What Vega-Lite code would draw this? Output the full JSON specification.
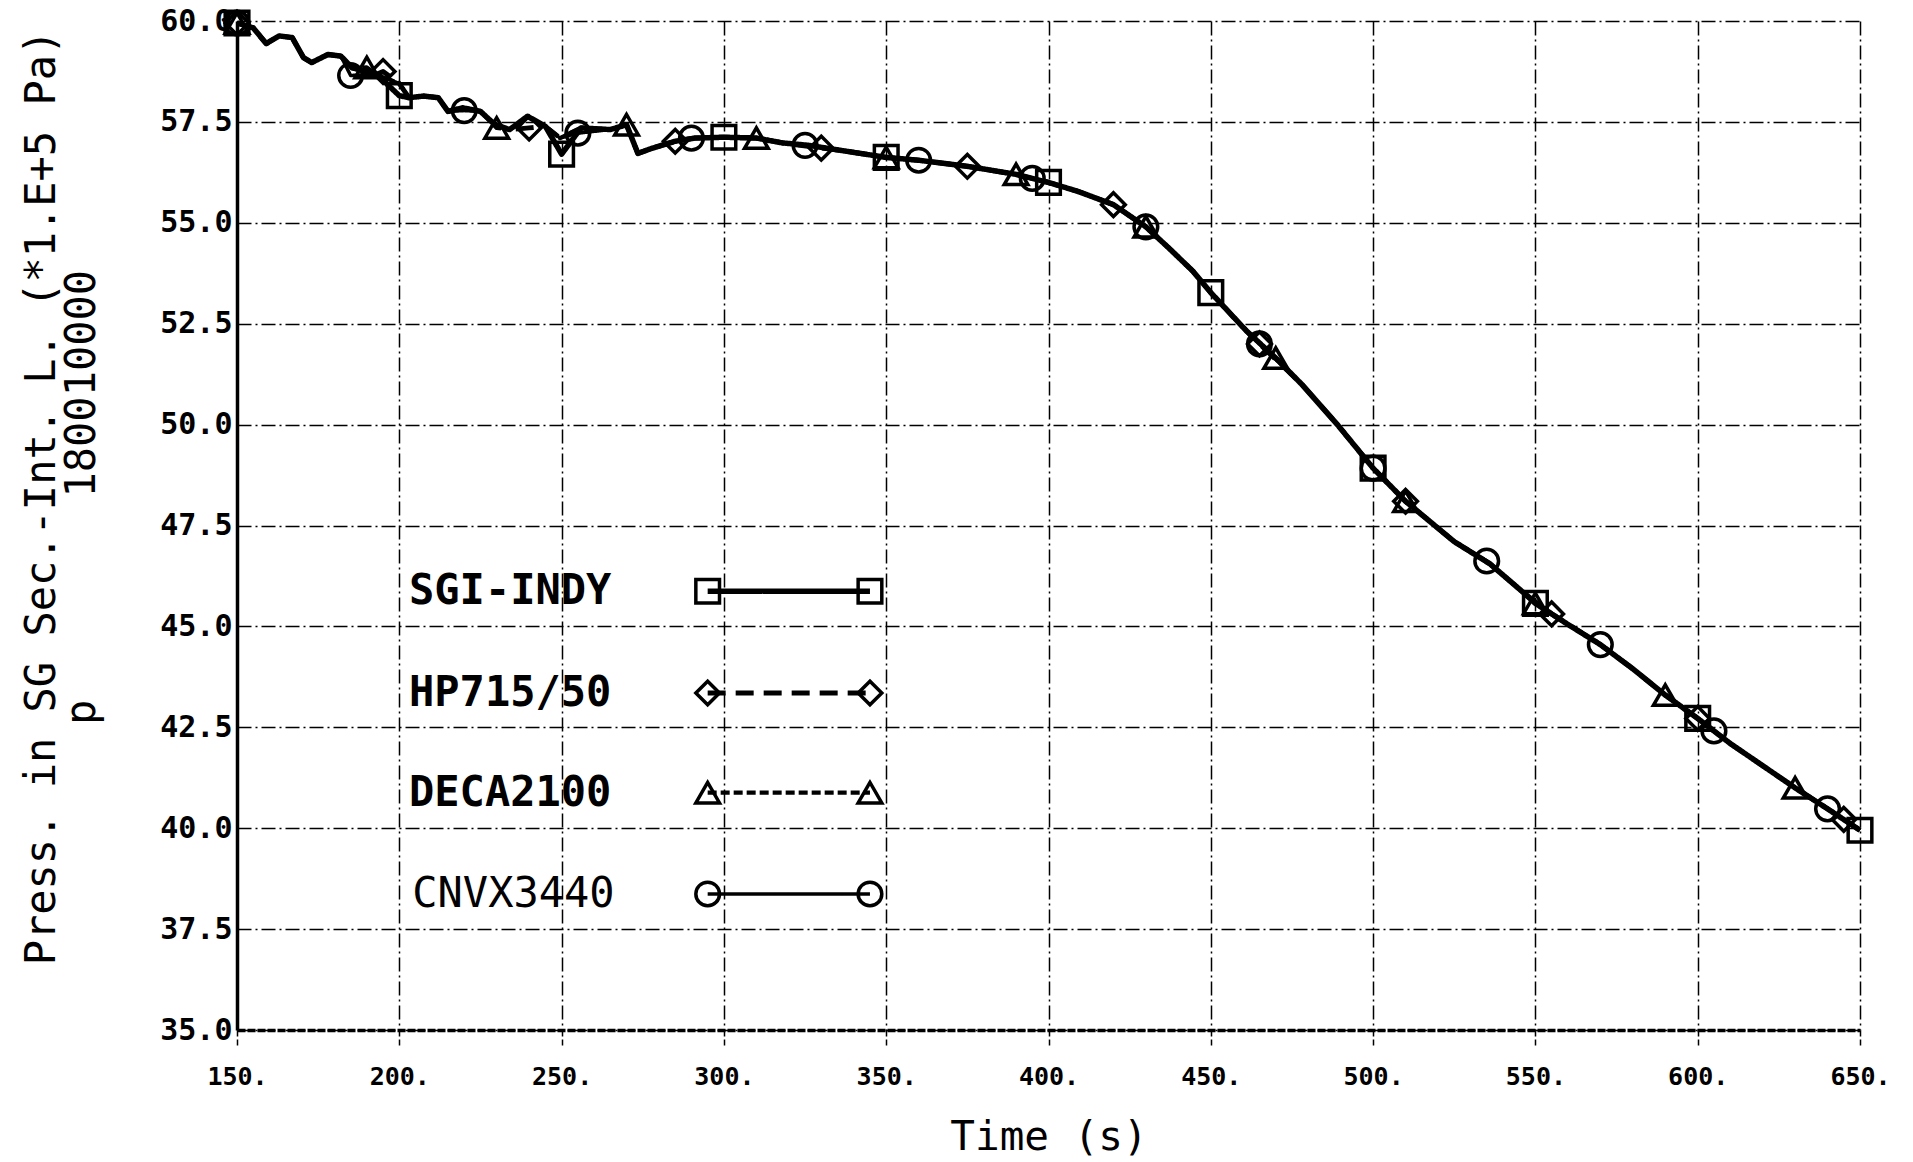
{
"$schema": "https://vega.github.io/schema/vega-lite/v6.json",
"width": 1623, "height": 1009,
"autosize": {"type": "none"},
"padding": {"left": 237, "top": 21, "right": 53, "bottom": 132},
"background": "white",
"config": {"view": {"stroke": null}, "font": "DejaVu Sans Mono"},
"datasets": {
"lines": [
{"series":"SGI-INDY","time":150,"pressure":59.95},{"series":"SGI-INDY","time":155,"pressure":59.83},{"series":"SGI-INDY","time":159,"pressure":59.44},{"series":"SGI-INDY","time":163,"pressure":59.63},{"series":"SGI-INDY","time":167,"pressure":59.59},{"series":"SGI-INDY","time":170.5,"pressure":59.09},{"series":"SGI-INDY","time":173,"pressure":58.97},{"series":"SGI-INDY","time":178,"pressure":59.17},{"series":"SGI-INDY","time":182,"pressure":59.13},{"series":"SGI-INDY","time":185.5,"pressure":58.84},{"series":"SGI-INDY","time":193,"pressure":58.68},{"series":"SGI-INDY","time":200,"pressure":58.15},{"series":"SGI-INDY","time":203,"pressure":58.10},{"series":"SGI-INDY","time":207.5,"pressure":58.14},{"series":"SGI-INDY","time":212,"pressure":58.10},{"series":"SGI-INDY","time":215,"pressure":57.76},{"series":"SGI-INDY","time":219.5,"pressure":57.85},{"series":"SGI-INDY","time":225,"pressure":57.76},{"series":"SGI-INDY","time":229.5,"pressure":57.43},{"series":"SGI-INDY","time":234,"pressure":57.31},{"series":"SGI-INDY","time":239.5,"pressure":57.64},{"series":"SGI-INDY","time":245,"pressure":57.39},{"series":"SGI-INDY","time":250,"pressure":56.70},{"series":"SGI-INDY","time":256,"pressure":57.35},{"series":"SGI-INDY","time":265,"pressure":57.31},{"series":"SGI-INDY","time":270,"pressure":57.43},{"series":"SGI-INDY","time":273.5,"pressure":56.72},{"series":"SGI-INDY","time":278,"pressure":56.85},{"series":"SGI-INDY","time":285,"pressure":57.02},{"series":"SGI-INDY","time":291,"pressure":57.10},{"series":"SGI-INDY","time":300,"pressure":57.12},{"series":"SGI-INDY","time":310,"pressure":57.10},{"series":"SGI-INDY","time":318,"pressure":56.98},{"series":"SGI-INDY","time":326,"pressure":56.92},{"series":"SGI-INDY","time":338,"pressure":56.77},{"series":"SGI-INDY","time":350,"pressure":56.62},{"series":"SGI-INDY","time":360,"pressure":56.55},{"series":"SGI-INDY","time":375,"pressure":56.40},{"series":"SGI-INDY","time":390,"pressure":56.20},{"series":"SGI-INDY","time":400,"pressure":56.00},{"series":"SGI-INDY","time":409,"pressure":55.78},{"series":"SGI-INDY","time":420,"pressure":55.45},{"series":"SGI-INDY","time":430,"pressure":54.90},{"series":"SGI-INDY","time":437,"pressure":54.38},{"series":"SGI-INDY","time":444.5,"pressure":53.80},{"series":"SGI-INDY","time":450,"pressure":53.27},{"series":"SGI-INDY","time":461,"pressure":52.32},{"series":"SGI-INDY","time":470,"pressure":51.65},{"series":"SGI-INDY","time":478,"pressure":51.00},{"series":"SGI-INDY","time":489,"pressure":50.00},{"series":"SGI-INDY","time":500,"pressure":48.92},{"series":"SGI-INDY","time":510,"pressure":48.10},{"series":"SGI-INDY","time":525,"pressure":47.10},{"series":"SGI-INDY","time":536,"pressure":46.55},{"series":"SGI-INDY","time":546,"pressure":45.86},{"series":"SGI-INDY","time":550,"pressure":45.57},{"series":"SGI-INDY","time":560,"pressure":45.05},{"series":"SGI-INDY","time":570,"pressure":44.55},{"series":"SGI-INDY","time":580,"pressure":43.95},{"series":"SGI-INDY","time":590,"pressure":43.30},{"series":"SGI-INDY","time":600,"pressure":42.72},{"series":"SGI-INDY","time":610,"pressure":42.10},{"series":"SGI-INDY","time":620,"pressure":41.55},{"series":"SGI-INDY","time":630,"pressure":41.00},{"series":"SGI-INDY","time":640,"pressure":40.48},{"series":"SGI-INDY","time":650,"pressure":39.95},
{"series":"HP715/50","time":150,"pressure":59.95},{"series":"HP715/50","time":155,"pressure":59.83},{"series":"HP715/50","time":159,"pressure":59.44},{"series":"HP715/50","time":163,"pressure":59.63},{"series":"HP715/50","time":167,"pressure":59.59},{"series":"HP715/50","time":170.5,"pressure":59.09},{"series":"HP715/50","time":173,"pressure":58.97},{"series":"HP715/50","time":178,"pressure":59.17},{"series":"HP715/50","time":182,"pressure":59.13},{"series":"HP715/50","time":185.5,"pressure":58.84},{"series":"HP715/50","time":193,"pressure":58.68},{"series":"HP715/50","time":195,"pressure":58.75},{"series":"HP715/50","time":200,"pressure":58.45},{"series":"HP715/50","time":203,"pressure":58.10},{"series":"HP715/50","time":207.5,"pressure":58.14},{"series":"HP715/50","time":212,"pressure":58.10},{"series":"HP715/50","time":215,"pressure":57.76},{"series":"HP715/50","time":219.5,"pressure":57.85},{"series":"HP715/50","time":225,"pressure":57.76},{"series":"HP715/50","time":229.5,"pressure":57.43},{"series":"HP715/50","time":234,"pressure":57.31},{"series":"HP715/50","time":240,"pressure":57.35},{"series":"HP715/50","time":245,"pressure":57.39},{"series":"HP715/50","time":249.5,"pressure":57.10},{"series":"HP715/50","time":256,"pressure":57.35},{"series":"HP715/50","time":265,"pressure":57.31},{"series":"HP715/50","time":270,"pressure":57.43},{"series":"HP715/50","time":273.5,"pressure":56.72},{"series":"HP715/50","time":278,"pressure":56.85},{"series":"HP715/50","time":285,"pressure":57.02},{"series":"HP715/50","time":291,"pressure":57.10},{"series":"HP715/50","time":300,"pressure":57.12},{"series":"HP715/50","time":310,"pressure":57.10},{"series":"HP715/50","time":318,"pressure":56.98},{"series":"HP715/50","time":330,"pressure":56.85},{"series":"HP715/50","time":338,"pressure":56.77},{"series":"HP715/50","time":350,"pressure":56.62},{"series":"HP715/50","time":360,"pressure":56.55},{"series":"HP715/50","time":375,"pressure":56.40},{"series":"HP715/50","time":390,"pressure":56.20},{"series":"HP715/50","time":400,"pressure":56.00},{"series":"HP715/50","time":409,"pressure":55.78},{"series":"HP715/50","time":420,"pressure":55.45},{"series":"HP715/50","time":430,"pressure":54.90},{"series":"HP715/50","time":437,"pressure":54.38},{"series":"HP715/50","time":444.5,"pressure":53.80},{"series":"HP715/50","time":450,"pressure":53.27},{"series":"HP715/50","time":461,"pressure":52.32},{"series":"HP715/50","time":465,"pressure":52.00},{"series":"HP715/50","time":478,"pressure":51.00},{"series":"HP715/50","time":489,"pressure":50.00},{"series":"HP715/50","time":500,"pressure":48.92},{"series":"HP715/50","time":510,"pressure":48.10},{"series":"HP715/50","time":525,"pressure":47.10},{"series":"HP715/50","time":536,"pressure":46.55},{"series":"HP715/50","time":546,"pressure":45.86},{"series":"HP715/50","time":555,"pressure":45.31},{"series":"HP715/50","time":570,"pressure":44.55},{"series":"HP715/50","time":580,"pressure":43.95},{"series":"HP715/50","time":590,"pressure":43.30},{"series":"HP715/50","time":600,"pressure":42.72},{"series":"HP715/50","time":610,"pressure":42.10},{"series":"HP715/50","time":620,"pressure":41.55},{"series":"HP715/50","time":630,"pressure":41.00},{"series":"HP715/50","time":645,"pressure":40.22},{"series":"HP715/50","time":650,"pressure":39.95},
{"series":"DECA2100","time":150,"pressure":59.95},{"series":"DECA2100","time":155,"pressure":59.83},{"series":"DECA2100","time":159,"pressure":59.44},{"series":"DECA2100","time":163,"pressure":59.63},{"series":"DECA2100","time":167,"pressure":59.59},{"series":"DECA2100","time":170.5,"pressure":59.09},{"series":"DECA2100","time":173,"pressure":58.97},{"series":"DECA2100","time":178,"pressure":59.17},{"series":"DECA2100","time":182,"pressure":59.13},{"series":"DECA2100","time":185.5,"pressure":58.84},{"series":"DECA2100","time":190,"pressure":58.85},{"series":"DECA2100","time":193,"pressure":58.68},{"series":"DECA2100","time":200,"pressure":58.45},{"series":"DECA2100","time":203,"pressure":58.10},{"series":"DECA2100","time":207.5,"pressure":58.14},{"series":"DECA2100","time":212,"pressure":58.10},{"series":"DECA2100","time":215,"pressure":57.76},{"series":"DECA2100","time":219.5,"pressure":57.85},{"series":"DECA2100","time":225,"pressure":57.76},{"series":"DECA2100","time":230,"pressure":57.35},{"series":"DECA2100","time":234,"pressure":57.31},{"series":"DECA2100","time":239.5,"pressure":57.64},{"series":"DECA2100","time":245,"pressure":57.39},{"series":"DECA2100","time":249.5,"pressure":57.10},{"series":"DECA2100","time":256,"pressure":57.35},{"series":"DECA2100","time":265,"pressure":57.31},{"series":"DECA2100","time":270,"pressure":57.43},{"series":"DECA2100","time":273.5,"pressure":56.72},{"series":"DECA2100","time":278,"pressure":56.85},{"series":"DECA2100","time":285,"pressure":57.02},{"series":"DECA2100","time":291,"pressure":57.10},{"series":"DECA2100","time":300,"pressure":57.12},{"series":"DECA2100","time":310,"pressure":57.10},{"series":"DECA2100","time":318,"pressure":56.98},{"series":"DECA2100","time":326,"pressure":56.92},{"series":"DECA2100","time":338,"pressure":56.77},{"series":"DECA2100","time":350,"pressure":56.62},{"series":"DECA2100","time":360,"pressure":56.55},{"series":"DECA2100","time":375,"pressure":56.40},{"series":"DECA2100","time":390,"pressure":56.20},{"series":"DECA2100","time":400,"pressure":56.00},{"series":"DECA2100","time":409,"pressure":55.78},{"series":"DECA2100","time":420,"pressure":55.45},{"series":"DECA2100","time":430,"pressure":54.90},{"series":"DECA2100","time":437,"pressure":54.38},{"series":"DECA2100","time":444.5,"pressure":53.80},{"series":"DECA2100","time":450,"pressure":53.27},{"series":"DECA2100","time":461,"pressure":52.32},{"series":"DECA2100","time":470,"pressure":51.65},{"series":"DECA2100","time":478,"pressure":51.00},{"series":"DECA2100","time":489,"pressure":50.00},{"series":"DECA2100","time":500,"pressure":48.92},{"series":"DECA2100","time":510,"pressure":48.10},{"series":"DECA2100","time":525,"pressure":47.10},{"series":"DECA2100","time":536,"pressure":46.55},{"series":"DECA2100","time":550,"pressure":45.57},{"series":"DECA2100","time":560,"pressure":45.05},{"series":"DECA2100","time":570,"pressure":44.55},{"series":"DECA2100","time":580,"pressure":43.95},{"series":"DECA2100","time":590,"pressure":43.30},{"series":"DECA2100","time":600,"pressure":42.72},{"series":"DECA2100","time":610,"pressure":42.10},{"series":"DECA2100","time":620,"pressure":41.55},{"series":"DECA2100","time":630,"pressure":41.00},{"series":"DECA2100","time":640,"pressure":40.48},{"series":"DECA2100","time":650,"pressure":39.95},
{"series":"CNVX3440","time":150,"pressure":59.95},{"series":"CNVX3440","time":155,"pressure":59.83},{"series":"CNVX3440","time":159,"pressure":59.44},{"series":"CNVX3440","time":163,"pressure":59.63},{"series":"CNVX3440","time":167,"pressure":59.59},{"series":"CNVX3440","time":170.5,"pressure":59.09},{"series":"CNVX3440","time":173,"pressure":58.97},{"series":"CNVX3440","time":178,"pressure":59.17},{"series":"CNVX3440","time":182,"pressure":59.13},{"series":"CNVX3440","time":185,"pressure":58.65},{"series":"CNVX3440","time":193,"pressure":58.68},{"series":"CNVX3440","time":200,"pressure":58.45},{"series":"CNVX3440","time":203,"pressure":58.10},{"series":"CNVX3440","time":207.5,"pressure":58.14},{"series":"CNVX3440","time":212,"pressure":58.10},{"series":"CNVX3440","time":215,"pressure":57.76},{"series":"CNVX3440","time":220,"pressure":57.78},{"series":"CNVX3440","time":225,"pressure":57.76},{"series":"CNVX3440","time":229.5,"pressure":57.43},{"series":"CNVX3440","time":234,"pressure":57.31},{"series":"CNVX3440","time":239.5,"pressure":57.64},{"series":"CNVX3440","time":245,"pressure":57.39},{"series":"CNVX3440","time":249.5,"pressure":57.10},{"series":"CNVX3440","time":255,"pressure":57.22},{"series":"CNVX3440","time":265,"pressure":57.31},{"series":"CNVX3440","time":270,"pressure":57.43},{"series":"CNVX3440","time":273.5,"pressure":56.72},{"series":"CNVX3440","time":278,"pressure":56.85},{"series":"CNVX3440","time":285,"pressure":57.02},{"series":"CNVX3440","time":290,"pressure":57.10},{"series":"CNVX3440","time":300,"pressure":57.12},{"series":"CNVX3440","time":310,"pressure":57.10},{"series":"CNVX3440","time":318,"pressure":56.98},{"series":"CNVX3440","time":325,"pressure":56.92},{"series":"CNVX3440","time":338,"pressure":56.77},{"series":"CNVX3440","time":350,"pressure":56.62},{"series":"CNVX3440","time":360,"pressure":56.55},{"series":"CNVX3440","time":375,"pressure":56.40},{"series":"CNVX3440","time":390,"pressure":56.20},{"series":"CNVX3440","time":395,"pressure":56.10},{"series":"CNVX3440","time":400,"pressure":56.00},{"series":"CNVX3440","time":409,"pressure":55.78},{"series":"CNVX3440","time":420,"pressure":55.45},{"series":"CNVX3440","time":430,"pressure":54.90},{"series":"CNVX3440","time":437,"pressure":54.38},{"series":"CNVX3440","time":444.5,"pressure":53.80},{"series":"CNVX3440","time":450,"pressure":53.27},{"series":"CNVX3440","time":461,"pressure":52.32},{"series":"CNVX3440","time":465,"pressure":52.00},{"series":"CNVX3440","time":478,"pressure":51.00},{"series":"CNVX3440","time":489,"pressure":50.00},{"series":"CNVX3440","time":500,"pressure":48.92},{"series":"CNVX3440","time":510,"pressure":48.10},{"series":"CNVX3440","time":525,"pressure":47.10},{"series":"CNVX3440","time":535,"pressure":46.62},{"series":"CNVX3440","time":546,"pressure":45.86},{"series":"CNVX3440","time":550,"pressure":45.57},{"series":"CNVX3440","time":560,"pressure":45.05},{"series":"CNVX3440","time":570,"pressure":44.55},{"series":"CNVX3440","time":580,"pressure":43.95},{"series":"CNVX3440","time":590,"pressure":43.30},{"series":"CNVX3440","time":605,"pressure":42.41},{"series":"CNVX3440","time":610,"pressure":42.10},{"series":"CNVX3440","time":620,"pressure":41.55},{"series":"CNVX3440","time":630,"pressure":41.00},{"series":"CNVX3440","time":640,"pressure":40.48},{"series":"CNVX3440","time":650,"pressure":39.95}
],
"markers": [
{"series":"SGI-INDY","time":150,"pressure":59.95},{"series":"SGI-INDY","time":200,"pressure":58.15},{"series":"SGI-INDY","time":250,"pressure":56.70},{"series":"SGI-INDY","time":300,"pressure":57.12},{"series":"SGI-INDY","time":350,"pressure":56.62},{"series":"SGI-INDY","time":400,"pressure":56.00},{"series":"SGI-INDY","time":450,"pressure":53.27},{"series":"SGI-INDY","time":500,"pressure":48.92},{"series":"SGI-INDY","time":550,"pressure":45.57},{"series":"SGI-INDY","time":600,"pressure":42.72},{"series":"SGI-INDY","time":650,"pressure":39.95},
{"series":"HP715/50","time":150,"pressure":59.95},{"series":"HP715/50","time":195,"pressure":58.75},{"series":"HP715/50","time":240,"pressure":57.35},{"series":"HP715/50","time":285,"pressure":57.02},{"series":"HP715/50","time":330,"pressure":56.85},{"series":"HP715/50","time":375,"pressure":56.40},{"series":"HP715/50","time":420,"pressure":55.45},{"series":"HP715/50","time":465,"pressure":52.00},{"series":"HP715/50","time":510,"pressure":48.10},{"series":"HP715/50","time":555,"pressure":45.31},{"series":"HP715/50","time":600,"pressure":42.72},{"series":"HP715/50","time":645,"pressure":40.22},
{"series":"DECA2100","time":150,"pressure":59.95},{"series":"DECA2100","time":190,"pressure":58.85},{"series":"DECA2100","time":230,"pressure":57.35},{"series":"DECA2100","time":270,"pressure":57.43},{"series":"DECA2100","time":310,"pressure":57.10},{"series":"DECA2100","time":350,"pressure":56.62},{"series":"DECA2100","time":390,"pressure":56.20},{"series":"DECA2100","time":430,"pressure":54.90},{"series":"DECA2100","time":470,"pressure":51.65},{"series":"DECA2100","time":510,"pressure":48.10},{"series":"DECA2100","time":550,"pressure":45.57},{"series":"DECA2100","time":590,"pressure":43.30},{"series":"DECA2100","time":630,"pressure":41.00},
{"series":"CNVX3440","time":150,"pressure":59.95},{"series":"CNVX3440","time":185,"pressure":58.65},{"series":"CNVX3440","time":220,"pressure":57.78},{"series":"CNVX3440","time":255,"pressure":57.22},{"series":"CNVX3440","time":290,"pressure":57.10},{"series":"CNVX3440","time":325,"pressure":56.92},{"series":"CNVX3440","time":360,"pressure":56.55},{"series":"CNVX3440","time":395,"pressure":56.10},{"series":"CNVX3440","time":430,"pressure":54.90},{"series":"CNVX3440","time":465,"pressure":52.00},{"series":"CNVX3440","time":500,"pressure":48.92},{"series":"CNVX3440","time":535,"pressure":46.62},{"series":"CNVX3440","time":570,"pressure":44.55},{"series":"CNVX3440","time":605,"pressure":42.41},{"series":"CNVX3440","time":640,"pressure":40.48}
],
"key": [
{"series":"SGI-INDY","time":295,"pressure":45.87},{"series":"SGI-INDY","time":345,"pressure":45.87},
{"series":"HP715/50","time":295,"pressure":43.35},{"series":"HP715/50","time":345,"pressure":43.35},
{"series":"DECA2100","time":295,"pressure":40.88},{"series":"DECA2100","time":345,"pressure":40.88},
{"series":"CNVX3440","time":295,"pressure":38.37},{"series":"CNVX3440","time":345,"pressure":38.37}
],
"keylabels": [
{"series":"SGI-INDY","time":203,"pressure":45.87},
{"series":"HP715/50","time":203,"pressure":43.35},
{"series":"DECA2100","time":203,"pressure":40.88},
{"series":"CNVX3440","time":204,"pressure":38.37}
]
},
"encoding": {
"x": {"field": "time", "type": "quantitative",
  "scale": {"domain": [150, 650], "nice": false, "zero": false},
  "axis": {"values": [150,200,250,300,350,400,450,500,550,600,650],
    "labelExpr": "format(datum.value, 'd') + '.'",
    "labelFont": "DejaVu Sans Mono", "labelFontSize": 25, "labelFontWeight": "bold", "labelColor": "black",
    "labelPadding": 16, "labelFlush": false, "labelOverlap": false,
    "ticks": true, "tickSize": 18, "tickColor": "black", "tickWidth": 1.5, "tickDash": [6, 3],
    "domain": true, "domainColor": "black", "domainWidth": 3.5, "domainDash": [8, 2],
    "grid": true, "gridColor": "black", "gridWidth": 1.5, "gridDash": [14, 4, 2, 4], "gridOpacity": 1,
    "title": "Time (s)", "titleFont": "DejaVu Sans Mono", "titleFontSize": 41, "titleFontWeight": "normal", "titleColor": "black",
    "titleBaseline": "alphabetic", "titleY": 119}},
"y": {"field": "pressure", "type": "quantitative",
  "scale": {"domain": [35, 60], "nice": false, "zero": false},
  "axis": {"values": [35,37.5,40,42.5,45,47.5,50,52.5,55,57.5,60],
    "format": ".1f",
    "labelFont": "DejaVu Sans Mono", "labelFontSize": 30, "labelFontWeight": "bold", "labelColor": "black",
    "labelPadding": 5, "labelFlush": false, "labelOverlap": false,
    "ticks": false,
    "domain": true, "domainColor": "black", "domainWidth": 3.5,
    "grid": true, "gridColor": "black", "gridWidth": 1.5, "gridDash": [14, 4, 2, 4], "gridOpacity": 1,
    "title": ["Press. in SG Sec.-Int. L. (*1.E+5 Pa)", "p\u00a0\u00a0\u00a0\u00a0\u00a0\u00a0\u00a0\u00a0180010000"],
    "titleFont": "DejaVu Sans Mono", "titleFontSize": 42, "titleFontWeight": "normal", "titleColor": "black",
    "titleLineHeight": 40, "titleAngle": -90, "titleAlign": "center", "titleBaseline": "bottom",
    "titleX": -174, "titleY": 476}}
},
"layer": [
{"data": {"name": "lines"},
 "mark": {"type": "line", "color": "black", "strokeJoin": "round", "strokeCap": "butt"},
 "encoding": {
  "detail": {"field": "series"},
  "strokeDash": {"field": "series", "type": "nominal", "legend": null,
    "scale": {"domain": ["SGI-INDY","HP715/50","DECA2100","CNVX3440"], "range": [[1,0],[18,10],[9,4],[1,0]]}},
  "strokeWidth": {"field": "series", "type": "nominal", "legend": null,
    "scale": {"domain": ["SGI-INDY","HP715/50","DECA2100","CNVX3440"], "range": [5.5, 3.5, 3.5, 3]}}
 }},
{"data": {"name": "markers"},
 "mark": {"type": "point", "filled": false, "color": "black", "strokeWidth": 3.5, "size": 560, "opacity": 1},
 "encoding": {
  "shape": {"field": "series", "type": "nominal", "legend": null,
    "scale": {"domain": ["SGI-INDY","HP715/50","DECA2100","CNVX3440"], "range": ["square","diamond","triangle-up","circle"]}}
 }},
{"data": {"name": "key"},
 "mark": {"type": "line", "color": "black"},
 "encoding": {
  "detail": {"field": "series"},
  "strokeDash": {"field": "series", "type": "nominal", "legend": null},
  "strokeWidth": {"field": "series", "type": "nominal", "legend": null}
 }},
{"data": {"name": "key"},
 "mark": {"type": "point", "filled": false, "color": "black", "strokeWidth": 3.5, "size": 560, "opacity": 1},
 "encoding": {
  "shape": {"field": "series", "type": "nominal", "legend": null}
 }},
{"data": {"name": "keylabels"},
 "transform": [{"filter": "datum.series !== 'CNVX3440'"}],
 "mark": {"type": "text", "align": "left", "baseline": "middle", "font": "DejaVu Sans Mono", "fontSize": 42, "fontWeight": "bold", "color": "black"},
 "encoding": {"text": {"field": "series"}}},
{"data": {"name": "keylabels"},
 "transform": [{"filter": "datum.series === 'CNVX3440'"}],
 "mark": {"type": "text", "align": "left", "baseline": "middle", "font": "DejaVu Sans Mono", "fontSize": 42, "fontWeight": "normal", "color": "black"},
 "encoding": {"text": {"field": "series"}}}
]
}
